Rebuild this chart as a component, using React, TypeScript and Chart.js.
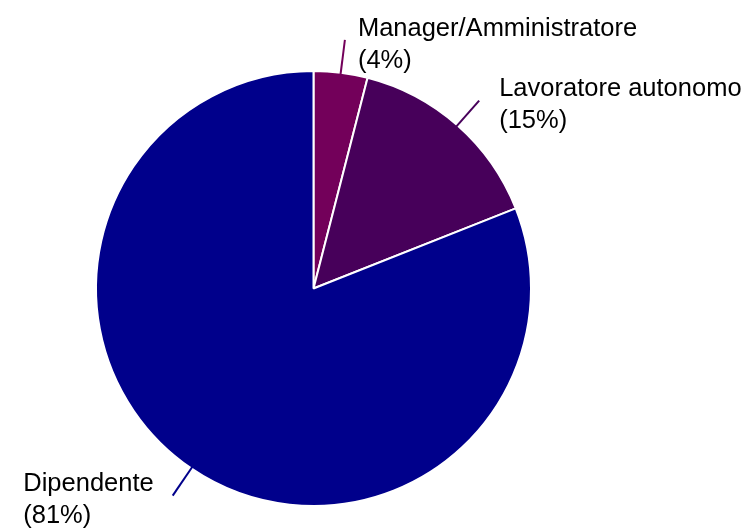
import React, { useEffect, useRef } from "react";
import { Chart, registerables } from "chart.js";

Chart.register(...registerables);

const categories = ["Manager/Amministratore", "Lavoratore autonomo", "Dipendente"];
const values = [4, 15, 81];
const colors = ["#73005a", "#47005a", "#00008b"];
const labelGap = [13, 20, -19];

const labelPlugin = {
  id: "leaderLabels",
  afterDraw(chart: any) {
    const ctx = chart.ctx;
    const meta = chart.getDatasetMeta(0);
    const total = values.reduce((a, b) => a + b, 0);
    ctx.save();
    ctx.font = "25.5px 'Liberation Sans', Arial, sans-serif";
    ctx.textBaseline = "middle";
    meta.data.forEach((arc: any, i: number) => {
      const { x, y, startAngle, endAngle, outerRadius } = arc.getProps(
        ["x", "y", "startAngle", "endAngle", "outerRadius"],
        true
      );
      const mid = (startAngle + endAngle) / 2;
      const c = Math.cos(mid);
      const s = Math.sin(mid);
      const r1 = outerRadius - 2;
      const r2 = outerRadius + 33;
      const x1 = x + r1 * c, y1 = y + r1 * s;
      const x2 = x + r2 * c, y2 = y + r2 * s;
      ctx.strokeStyle = colors[i];
      ctx.lineWidth = 2;
      ctx.beginPath();
      ctx.moveTo(x1, y1);
      ctx.lineTo(x2, y2);
      ctx.stroke();
      const line1 = categories[i];
      const line2 = "(" + Math.round((values[i] / total) * 100) + "%)";
      const w = Math.max(ctx.measureText(line1).width, ctx.measureText(line2).width);
      const lx = c >= 0 ? x2 + labelGap[i] : x2 + labelGap[i] - w;
      ctx.fillStyle = "#000";
      ctx.textAlign = "left";
      ctx.fillText(line1, lx, y2 - 11.5);
      ctx.fillText(line2, lx, y2 + 20.5);
    });
    ctx.restore();
  },
};

export default function App() {
  const ref = useRef<HTMLCanvasElement>(null);
  useEffect(() => {
    document.body.style.margin = "0";
    const chart = new Chart(ref.current as HTMLCanvasElement, {
      type: "pie",
      data: {
        labels: categories,
        datasets: [
          {
            data: values,
            backgroundColor: colors,
            borderColor: "#ffffff",
            borderWidth: 2,
          },
        ],
      },
      options: {
        animation: false,
        responsive: false,
        layout: { padding: { left: 95, right: 214, top: 70, bottom: 21 } },
        plugins: {
          legend: { display: false },
          tooltip: { enabled: false },
        },
      },
      plugins: [labelPlugin],
    });
    return () => chart.destroy();
  }, []);
  return (
    <div style={{ position: "fixed", left: 0, top: 0, width: 746, height: 528, background: "#fff" }}>
      <canvas ref={ref} width={746} height={528} style={{ width: 746, height: 528 }} />
    </div>
  );
}
